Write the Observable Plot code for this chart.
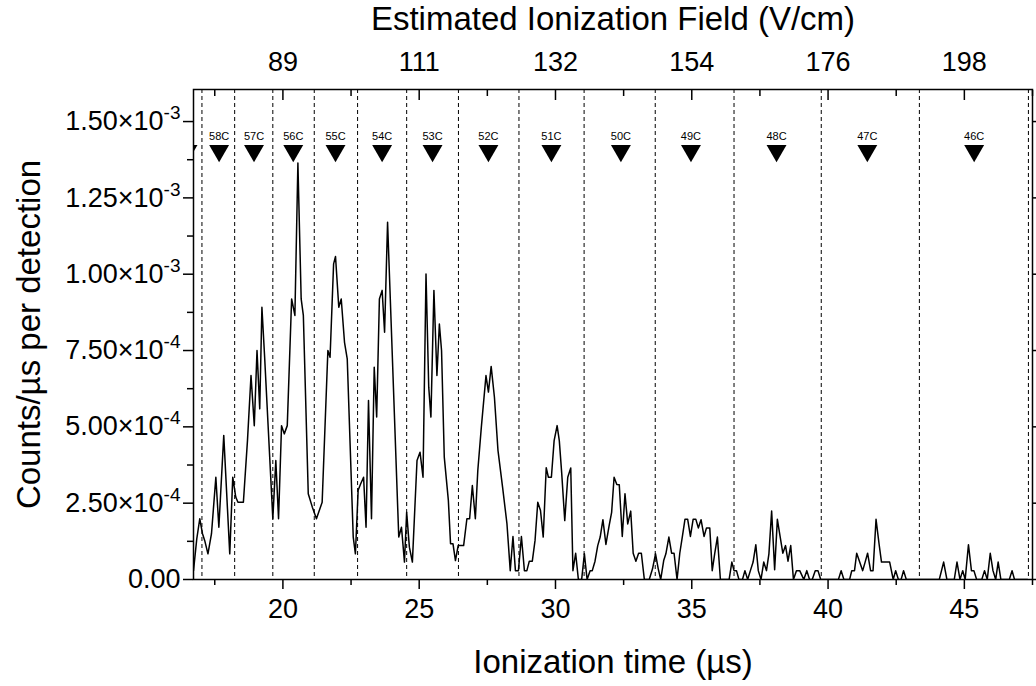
<!DOCTYPE html>
<html><head><meta charset="utf-8">
<script src="https://cdn.jsdelivr.net/npm/d3@7"></script>
<script src="https://cdn.jsdelivr.net/npm/@observablehq/plot@0.6"></script>
<style>
body{margin:0;background:#fff;}
#chart svg{font-family:"Liberation Sans",Arial,Helvetica,sans-serif;}
</style>
</head><body><div id="chart"></div>
<script>
// Ionization time (µs) of each vertex of the trace
const times = [16.72,16.84,16.95,17.05,17.13,17.25,17.38,17.54,17.65,17.83,18.05,18.16,18.27,18.35,18.55,18.70,18.83,18.95,19.05,19.15,19.23,19.33,19.63,19.74,19.84,19.95,20.05,20.16,20.32,20.44,20.55,20.67,20.75,20.93,21.08,21.23,21.44,21.65,21.73,21.86,21.93,22.05,22.14,22.26,22.36,22.58,22.66,22.76,22.85,22.96,23.05,23.14,23.25,23.35,23.44,23.54,23.64,23.73,23.84,24.25,24.35,24.46,24.54,24.64,24.75,24.92,25.03,25.14,25.25,25.35,25.43,25.54,25.65,25.74,25.82,25.92,26.07,26.15,26.24,26.33,26.43,26.63,26.75,26.85,26.95,27.06,27.15,27.28,27.45,27.54,27.64,27.76,27.89,28.06,28.22,28.34,28.44,28.53,28.64,28.75,28.86,28.95,29.04,29.15,29.25,29.35,29.45,29.55,29.66,29.74,29.85,29.95,30.06,30.14,30.23,30.34,30.45,30.56,30.64,30.74,30.84,30.96,31.06,31.16,31.27,31.35,31.45,31.55,31.64,31.74,31.85,31.97,32.06,32.15,32.25,32.34,32.45,32.55,32.65,32.76,32.85,32.95,33.05,33.15,33.26,33.44,33.56,33.67,33.77,33.86,33.97,34.05,34.16,34.26,34.35,34.46,34.56,34.66,34.75,34.85,34.95,35.05,35.15,35.24,35.34,35.45,35.54,35.66,35.75,35.84,35.94,36.05,36.37,36.47,36.55,36.64,36.73,36.86,36.95,37.05,37.15,37.25,37.35,37.44,37.54,37.64,37.74,37.83,37.93,38.04,38.14,38.24,38.34,38.44,38.53,38.63,38.73,38.84,38.96,39.11,39.22,39.32,39.42,39.53,39.63,39.73,40.38,40.48,40.58,40.79,40.87,40.97,41.05,41.16,41.27,41.36,41.45,41.56,41.65,41.76,41.87,41.96,42.07,42.26,42.39,42.48,42.58,42.68,42.77,42.87,44.08,44.24,44.36,44.63,44.73,44.84,44.94,45.03,45.15,45.26,45.35,45.45,45.64,45.74,45.84,45.95,46.05,46.15,46.24,46.34,46.65,46.75,46.84,47.32];
// Counts/µs per detection, in units of 1e-4
const counts = [0.29,1.33,1.99,1.50,1.28,0.84,1.50,3.35,1.71,4.72,0.84,3.35,2.70,2.53,2.53,4.55,6.68,5.04,7.50,5.59,8.92,7.28,1.99,3.90,1.99,5.04,4.77,5.04,9.19,8.65,13.64,9.19,8.65,2.81,2.37,1.99,2.53,7.50,7.28,10.34,10.58,8.92,9.19,7.77,7.23,1.39,0.84,2.92,3.13,3.35,1.71,5.86,1.99,6.95,5.32,9.19,9.47,8.10,11.70,1.39,1.71,0.57,2.20,1.06,0.57,3.90,4.17,3.35,10.01,6.30,5.32,9.47,6.68,8.37,7.50,4.01,2.59,1.17,1.17,0.62,1.11,1.11,1.99,1.99,3.08,1.99,3.57,4.99,6.68,6.14,6.98,5.97,4.23,3.02,1.82,0.29,1.41,0.29,0.29,1.41,0.29,0.29,0.60,0.60,1.28,2.53,2.26,1.39,3.66,3.35,3.35,4.55,5.04,4.55,3.46,1.93,3.35,3.65,0.29,0.86,0,0,0.84,0,0.29,0.29,0.60,1.11,1.39,1.96,1.15,1.77,2.20,3.35,3.11,3.10,1.41,2.81,1.82,2.24,0.86,0.60,0.86,0.86,0,0,0.35,0.84,0.35,0,0.62,0.84,1.39,0.86,0.86,0,0.86,1.44,1.97,1.97,1.41,1.97,1.97,1.69,1.96,1.41,1.69,1.69,0.29,0.84,1.39,0,0,0.57,0.29,0.29,0,0,0.29,0,0.29,0.57,1.14,0.29,0,0.57,0.29,0.84,2.24,0.32,1.97,1.41,0.86,1.11,0.60,1.11,0,0.29,0.29,0,0.29,0,0,0.29,0.29,0,0,0.29,0,0,0.29,0.29,0.86,0.57,0.29,0.57,0.86,0.29,0.29,1.97,1.17,0.57,0.57,0.57,0,0.29,0,0,0.29,0,0,0.57,0,0,0.57,0,0.29,0,1.14,0.29,0.29,0,0,0.29,0,0.86,0.29,0,0.57,0,0,0.29,0,0];

// dashed state boundaries (µs)
const dividerTimes = [17.03,18.23,19.63,21.15,22.74,24.54,26.44,28.66,31.05,33.66,36.55,39.75,43.35,47.35];
// state markers
const markerTimes = [16.50,17.66,18.94,20.38,21.93,23.64,25.49,27.54,29.85,32.40,34.97,38.11,41.44,45.36];
const markerLabels = ["59C","58C","57C","56C","55C","54C","53C","52C","51C","50C","49C","48C","47C","46C"];

const xTicks = [20,25,30,35,40,45];
const xTickLabels = ["20","25","30","35","40","45"];
const xMinorTicks = [17.5,22.5,27.5,32.5,37.5,42.5,47.5];
const fieldTickLabels = ["89","111","132","154","176","198"];
const yTicks = [0,2.5e-4,5e-4,7.5e-4,1e-3,1.25e-3,1.5e-3];
const yTickLabels = ["0.00","2.50×10^-4","5.00×10^-4","7.50×10^-4","1.00×10^-3","1.25×10^-3","1.50×10^-3"];
const yMinorTicks = [1.25e-4,3.75e-4,6.25e-4,8.75e-4,1.125e-3,1.375e-3];

const xTitle = "Ionization time (µs)";
const topTitle = "Estimated Ionization Field (V/cm)";
const yTitle = "Counts/µs per detection";

const xDomain = [16.72, 47.5];
const yDomain = [0, 1.605e-3];
const markerLevel = 1.404e-3;
const labelLevel = 1.451e-3;

const trace = times.map((t, i) => ({t, v: counts[i] * 1e-4}));
const markers = markerTimes.map((t, i) => ({t, label: markerLabels[i]}));
const TICK_FONT = 27, TITLE_FONT = 33;

const chart = Plot.plot({
  width: 1036, height: 686,
  marginLeft: 193, marginRight: 4, marginTop: 89, marginBottom: 107,
  x: {domain: xDomain},
  y: {domain: yDomain},
  style: {fontFamily: '"Liberation Sans", Arial, sans-serif', color: "#000", background: "#fff"},
  marks: [
    Plot.ruleX(dividerTimes, {x: d => d, stroke: "#000", strokeWidth: 1, strokeDasharray: "4,3"}),
    Plot.line(trace, {x: "t", y: "v", stroke: "#000", strokeWidth: 1.5, clip: true}),
    Plot.dot(markers, {x: "t", y: () => markerLevel, symbol: "triangle", rotate: 180, r: 7.4, fill: "#000", stroke: null, clip: true}),
    Plot.text(markers.filter(d => d.t > xDomain[0]), {x: "t", y: () => labelLevel, text: "label", fontSize: 11, fill: "#000"}),
    Plot.frame({stroke: "#000", strokeWidth: 1.5}),
    // bottom axis ticks + labels
    Plot.axisX(xTicks, {anchor: "bottom", tickSize: 10, strokeWidth: 1.5, tickFormat: () => "", label: null}),
    Plot.axisX(xMinorTicks, {anchor: "bottom", tickSize: 6, strokeWidth: 1.5, tickFormat: () => "", label: null}),
    Plot.text(xTicks, {x: d => d, text: d => xTickLabels[xTicks.indexOf(d)], frameAnchor: "bottom", lineAnchor: "middle", dy: 30, fontSize: TICK_FONT, fill: "#000"}),
    // top axis (field)
    Plot.axisX(xTicks, {anchor: "top", tickSize: 10, dy: 10, strokeWidth: 1.5, tickFormat: () => "", label: null}),
    Plot.axisX(xMinorTicks, {anchor: "top", tickSize: 6, dy: 6, strokeWidth: 1.5, tickFormat: () => "", label: null}),
    Plot.text(xTicks, {x: d => d, text: d => fieldTickLabels[xTicks.indexOf(d)], frameAnchor: "top", lineAnchor: "middle", dy: -27, fontSize: TICK_FONT, fill: "#000"}),
    // left axis
    Plot.axisY(yTicks, {anchor: "left", tickSize: 10, strokeWidth: 1.5, tickFormat: () => "", label: null}),
    Plot.axisY(yMinorTicks, {anchor: "left", tickSize: 6, strokeWidth: 1.5, tickFormat: () => "", label: null}),
    Plot.text(yTicks, {y: d => d, text: d => yTickLabels[yTicks.indexOf(d)], frameAnchor: "left", textAnchor: "end", lineAnchor: "middle", dx: -13, fontSize: TICK_FONT, fill: "#000"}),
    // right axis
    Plot.axisY(yTicks, {anchor: "right", tickSize: 6, strokeWidth: 1.5, tickFormat: () => "", label: null}),
    // titles
    Plot.text([xTitle], {text: d => d, frameAnchor: "bottom", textAnchor: "middle", lineAnchor: "middle", dy: 83, fontSize: TITLE_FONT, fill: "#000"}),
    Plot.text([topTitle], {text: d => d, frameAnchor: "top", textAnchor: "middle", lineAnchor: "middle", dy: -70, fontSize: TITLE_FONT, fill: "#000"}),
    Plot.text([yTitle], {text: d => d, frameAnchor: "left", textAnchor: "middle", lineAnchor: "middle", dx: -164, rotate: -90, fontSize: TITLE_FONT, fill: "#000"})
  ]
});

// superscript exponents in y tick labels
chart.querySelectorAll("text").forEach(el => {
  const s = el.textContent;
  const k = s.indexOf("^");
  if (k < 0) return;
  el.textContent = "";
  const base = document.createElementNS("http://www.w3.org/2000/svg", "tspan");
  base.textContent = s.slice(0, k);
  const sup = document.createElementNS("http://www.w3.org/2000/svg", "tspan");
  sup.textContent = s.slice(k + 1);
  sup.setAttribute("font-size", "19");
  sup.setAttribute("dy", "-11");
  el.appendChild(base);
  el.appendChild(sup);
});

document.getElementById("chart").appendChild(chart);
</script>
</body></html>
